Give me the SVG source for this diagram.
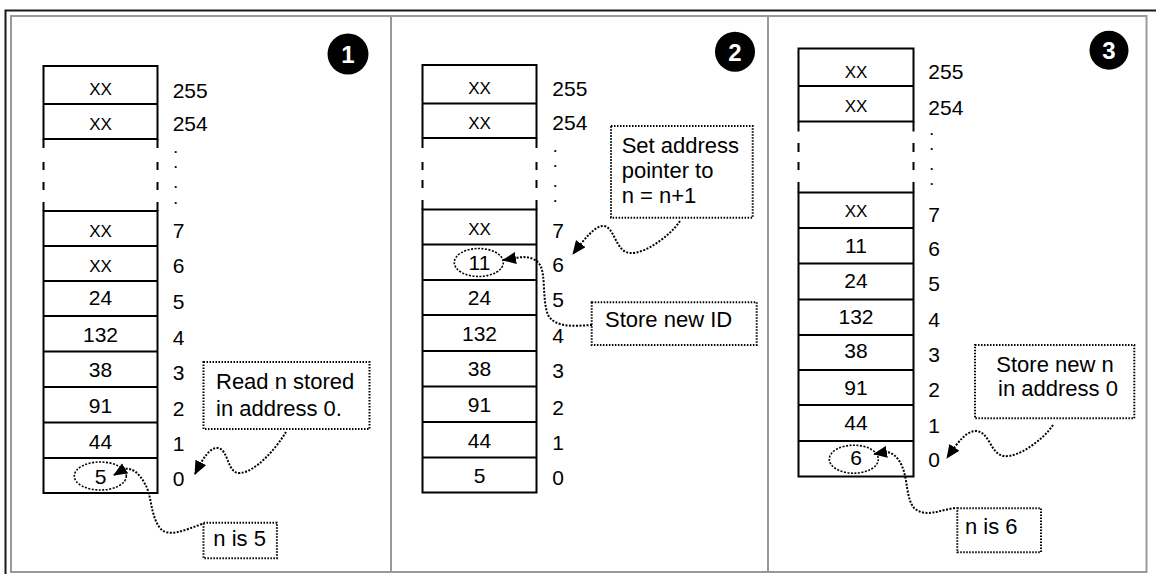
<svg xmlns="http://www.w3.org/2000/svg" width="1156" height="574" viewBox="0 0 1156 574">
<style>
.bg{fill:#fff}
.frame-o{fill:none;stroke:#1a1a1a;stroke-width:2}
.frame-i{fill:none;stroke:#999;stroke-width:2}
.div{stroke:#999;stroke-width:2}
.cell{fill:none;stroke:#000;stroke-width:2}
.tick{stroke:#000;stroke-width:2}
.t{font-family:"Liberation Sans",Arial,sans-serif;font-size:21px;fill:#000}
.c{text-anchor:middle}
.xx{font-size:17px}
.call{font-size:22px}
.d{font-size:12px;font-weight:bold}
.box{fill:none;stroke:#000;stroke-width:2;stroke-dasharray:1.5 1.5}
.ell{fill:none;stroke:#000;stroke-width:1.6;stroke-dasharray:2 1.5}
.conn{fill:none;stroke:#000;stroke-width:2;stroke-dasharray:2 1.5}
.badge{fill:#000}
.bt{font-family:"Liberation Sans",Arial,sans-serif;font-size:24px;font-weight:bold;fill:#fff;text-anchor:middle}
</style>
<defs>
<marker id="ah" markerUnits="userSpaceOnUse" markerWidth="15" markerHeight="12" refX="13" refY="6" orient="auto" viewBox="0 0 15 12">
<path d="M0,0 L14,6 L0,12 z" fill="#000"/>
</marker>
</defs>
<rect class="bg" x="0" y="0" width="1156" height="574"/>
<g id="frame">
<rect class="frame-o" x="5.5" y="10.5" width="1160" height="570"/>
<rect class="frame-i" x="11" y="16" width="1135.5" height="556"/>
<line class="div" x1="391" y1="16" x2="391" y2="572"/>
<line class="div" x1="768" y1="16" x2="768" y2="572"/>
</g>

<!-- Panel 1 -->
<g id="badge1"><circle class="badge" cx="348" cy="54" r="20.5"/><text class="bt" x="348" y="63">1</text></g>
<g id="memory1">
<rect class="cell" x="43.5" y="66" width="114" height="73"/>
<line class="cell" x1="43.5" y1="104" x2="157.5" y2="104"/>
<path class="tick" d="M43.5,139V148M43.5,162V170M43.5,182V190M43.5,202V211M157.5,139V148M157.5,162V170M157.5,182V190M157.5,202V211"/>
<rect class="cell" x="43.5" y="211" width="114" height="282"/>
<path class="cell" d="M43.5,246H157.5M43.5,281H157.5M43.5,316H157.5M43.5,351.5H157.5M43.5,387H157.5M43.5,422.5H157.5M43.5,458H157.5"/>
<text class="t c xx" x="100.5" y="95">XX</text>
<text class="t c xx" x="100.5" y="130">XX</text>
<text class="t c xx" x="100.5" y="236.5">XX</text>
<text class="t c xx" x="100.5" y="271.5">XX</text>
<text class="t c" x="100.5" y="305">24</text>
<text class="t c" x="100.5" y="341.5">132</text>
<text class="t c" x="100.5" y="377">38</text>
<text class="t c" x="100.5" y="413">91</text>
<text class="t c" x="100.5" y="448.5">44</text>
<text class="t c" x="100.5" y="483.5">5</text>
<text class="t" x="172.7" y="97.7">255</text>
<text class="t" x="172.7" y="131">254</text>
<text class="t d" x="174" y="152.5">.</text>
<text class="t d" x="174" y="167.5">.</text>
<text class="t d" x="174" y="187.5">.</text>
<text class="t d" x="174" y="203.5">.</text>
<text class="t" x="172.7" y="238.3">7</text>
<text class="t" x="172.7" y="273.3">6</text>
<text class="t" x="172.7" y="309">5</text>
<text class="t" x="172.7" y="345">4</text>
<text class="t" x="172.7" y="380">3</text>
<text class="t" x="172.7" y="416">2</text>
<text class="t" x="172.7" y="451">1</text>
<text class="t" x="172.7" y="486">0</text>
<ellipse class="ell" cx="100.3" cy="476" rx="26" ry="14"/>
</g>
<g id="note-read">
<rect class="box" x="203.5" y="362" width="166" height="67"/>
<text class="t call" x="216" y="389">Read n stored</text>
<text class="t call" x="216" y="415.5">in address 0.</text>
</g>
<g id="note-n5">
<rect class="box" x="203.5" y="522.7" width="73.4" height="35.6"/>
<text class="t call" x="213.3" y="545.7">n is 5</text>
</g>

<!-- Panel 2 -->
<g id="badge2"><circle class="badge" cx="735" cy="51.7" r="20"/><text class="bt" x="735" y="60.7">2</text></g>
<g id="memory2">
<rect class="cell" x="422.5" y="65" width="114" height="73"/>
<line class="cell" x1="422.5" y1="103.5" x2="536.5" y2="103.5"/>
<path class="tick" d="M422.5,138V148M422.5,162V170M422.5,180V188M422.5,200V209.5M536.5,138V148M536.5,162V170M536.5,180V188M536.5,200V209.5"/>
<rect class="cell" x="422.5" y="209.5" width="114" height="283"/>
<path class="cell" d="M422.5,244.5H536.5M422.5,280H536.5M422.5,315H536.5M422.5,351H536.5M422.5,386.5H536.5M422.5,422H536.5M422.5,457.5H536.5"/>
<text class="t c xx" x="479.5" y="93.5">XX</text>
<text class="t c xx" x="479.5" y="128.5">XX</text>
<text class="t c xx" x="479.5" y="235">XX</text>
<text class="t c" x="479.5" y="270">11</text>
<text class="t c" x="479.5" y="305">24</text>
<text class="t c" x="479.5" y="340.7">132</text>
<text class="t c" x="479.5" y="376">38</text>
<text class="t c" x="479.5" y="412.3">91</text>
<text class="t c" x="479.5" y="448.3">44</text>
<text class="t c" x="479.5" y="482.7">5</text>
<text class="t" x="552.3" y="95.5">255</text>
<text class="t" x="552.3" y="130">254</text>
<text class="t d" x="553.5" y="151.5">.</text>
<text class="t d" x="553.5" y="166.5">.</text>
<text class="t d" x="553.5" y="186.5">.</text>
<text class="t d" x="553.5" y="201.5">.</text>
<text class="t" x="552.3" y="238">7</text>
<text class="t" x="552.3" y="272">6</text>
<text class="t" x="552.3" y="307.3">5</text>
<text class="t" x="552.3" y="342.7">4</text>
<text class="t" x="552.3" y="378.3">3</text>
<text class="t" x="552.3" y="415">2</text>
<text class="t" x="552.3" y="450">1</text>
<text class="t" x="552.3" y="485">0</text>
<ellipse class="ell" cx="478.8" cy="262.5" rx="24.5" ry="14"/>
</g>
<g id="note-set">
<rect class="box" x="611" y="126" width="141.7" height="91.7"/>
<text class="t call" x="621.7" y="152.5">Set address</text>
<text class="t call" x="621.7" y="177.5">pointer to</text>
<text class="t call" x="621.7" y="203">n = n+1</text>
</g>
<g id="note-store-id">
<rect class="box" x="591.7" y="302.3" width="165" height="42.7"/>
<text class="t call" x="605" y="327.3">Store new ID</text>
</g>

<!-- Panel 3 -->
<g id="badge3"><circle class="badge" cx="1109" cy="50.3" r="19.5"/><text class="bt" x="1109" y="59.3">3</text></g>
<g id="memory3">
<rect class="cell" x="798.5" y="48.5" width="115" height="73"/>
<line class="cell" x1="798.5" y1="86" x2="913.5" y2="86"/>
<path class="tick" d="M798.5,121.5V131.5M798.5,143V152M798.5,162V170M798.5,182V192.5M913.5,121.5V131.5M913.5,143V152M913.5,162V170M913.5,182V192.5"/>
<rect class="cell" x="798.5" y="192.5" width="115" height="284"/>
<path class="cell" d="M798.5,228H913.5M798.5,263.5H913.5M798.5,299.5H913.5M798.5,335H913.5M798.5,370H913.5M798.5,405H913.5M798.5,441H913.5"/>
<text class="t c xx" x="856" y="78.3">XX</text>
<text class="t c xx" x="856" y="111.7">XX</text>
<text class="t c xx" x="856" y="216.7">XX</text>
<text class="t c" x="856" y="253.3">11</text>
<text class="t c" x="856" y="288.3">24</text>
<text class="t c" x="856" y="324">132</text>
<text class="t c" x="856" y="358.3">38</text>
<text class="t c" x="856" y="395">91</text>
<text class="t c" x="856" y="430">44</text>
<text class="t c" x="856" y="465">6</text>
<text class="t" x="928.3" y="79">255</text>
<text class="t" x="928.3" y="115">254</text>
<text class="t d" x="930" y="134.8">.</text>
<text class="t d" x="930" y="149.8">.</text>
<text class="t d" x="930" y="169.8">.</text>
<text class="t d" x="930" y="184.8">.</text>
<text class="t" x="928.3" y="221.7">7</text>
<text class="t" x="928.3" y="255.7">6</text>
<text class="t" x="928.3" y="290.7">5</text>
<text class="t" x="928.3" y="326.7">4</text>
<text class="t" x="928.3" y="361.7">3</text>
<text class="t" x="928.3" y="397.3">2</text>
<text class="t" x="928.3" y="433.3">1</text>
<text class="t" x="928.3" y="467.3">0</text>
<ellipse class="ell" cx="853.8" cy="459.2" rx="24.5" ry="14"/>
</g>
<g id="note-store-n">
<rect class="box" x="975" y="345" width="159.3" height="73.3"/>
<text class="t call c" x="1055" y="371.7">Store new n</text>
<text class="t call c" x="1058" y="396">in address 0</text>
</g>
<g id="note-n6">
<rect class="box" x="957.3" y="508.3" width="83.7" height="44"/>
<text class="t call" x="965" y="534.3">n is 6</text>
</g>

<g id="connectors">
<path class="conn" marker-end="url(#ah)" d="M286,432 C275,450 255,472 240,473 C227,474 229,450 218,448 C210,447 203,458 195,474"/>
<path class="conn" marker-end="url(#ah)" d="M202,524 C185,530 168,538 160,528 C150,515 152,495 145,484 C140,474 132,467 124,469 L114,475"/>
<path class="conn" marker-end="url(#ah)" d="M680,221 C670,236 645,254 630,253 C615,252 615,226 603,226 C595,226 585,238 573,254"/>
<path class="conn" marker-end="url(#ah)" d="M592,325 C575,326 555,328 548,315 C542,300 546,275 540,265 C535,257 525,256 516,258 L503,260"/>
<path class="conn" marker-end="url(#ah)" d="M1053,425 C1043,440 1018,458 1004,456 C990,454 990,432 976,431 C966,431 958,442 947,458"/>
<path class="conn" marker-end="url(#ah)" d="M955,508 C940,510 925,518 914,508 C906,498 908,480 902,466 C898,457 892,452 886,452 L874,454"/>
</g>
</svg>
